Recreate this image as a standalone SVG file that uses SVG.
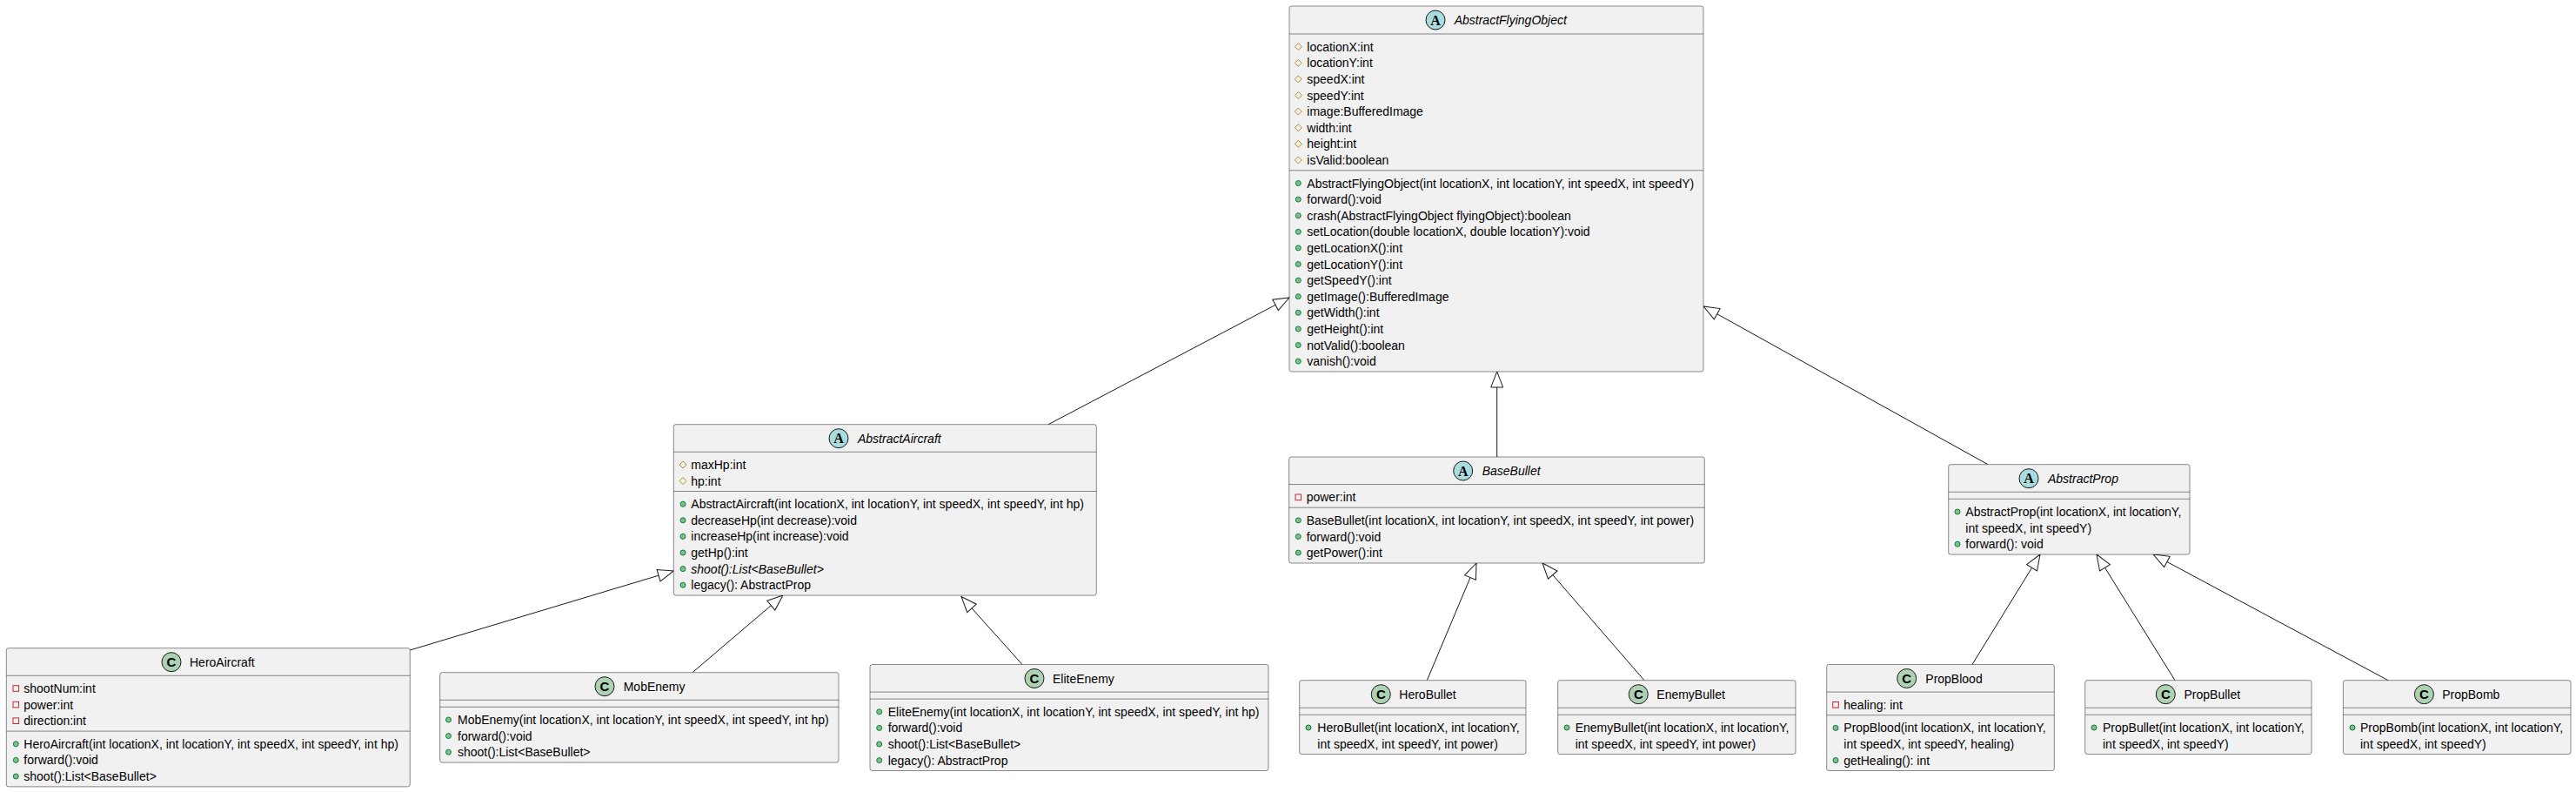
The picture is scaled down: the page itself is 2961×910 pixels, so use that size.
<svg xmlns="http://www.w3.org/2000/svg" width="2961" height="910" viewBox="0 0 2961 910">
<style>
.box{fill:#F1F1F1;stroke:#181818;stroke-width:0.5}
.sep{stroke:#181818;stroke-width:0.5}
.t{font-family:"Liberation Sans",Arial,sans-serif;font-size:14px;fill:#000000}
.i{font-style:italic}
.ia{fill:#A9DCDF;stroke:#181818;stroke-width:1}
.ic{fill:#ADD1B2;stroke:#181818;stroke-width:1}
.la{font-family:"Liberation Serif",serif;font-weight:bold;font-size:16px;fill:#000000}
.lc{font-family:"Liberation Sans",sans-serif;font-weight:bold;font-size:15px;fill:#000000}
.prot{fill:none;stroke:#B38D22;stroke-width:1}
.priv{fill:none;stroke:#C82930;stroke-width:1}
.pub{fill:#84BE84;stroke:#038048;stroke-width:1}
.edge{stroke:#181818;stroke-width:1;fill:none;marker-end:url(#ext)}
</style>
<defs>
<marker id="ext" markerWidth="20" markerHeight="20" viewBox="-19 -10 20 20" refX="0" refY="0" orient="auto" markerUnits="userSpaceOnUse"><path d="M0,0 L-18,-7 L-18,7 Z" fill="#FFFFFF" stroke="#181818" stroke-width="1"/></marker>
<path id="dia" d="M0,-4 L4,0 L0,4 L-4,0 Z"/>
</defs>
<rect width="2961" height="910" fill="#FFFFFF"/>

<g id="connectors">
<path class="edge" d="M1205,487.7 L1482,342"/>
<path class="edge" d="M1720.7,525 L1720.7,427"/>
<path class="edge" d="M2285,533.7 L1958,352"/>
<path class="edge" d="M471.3,747 L774.3,656"/>
<path class="edge" d="M796,772.7 L900,684"/>
<path class="edge" d="M1175,763.5 L1105,685.5"/>
<path class="edge" d="M1640.3,781.7 L1697,647"/>
<path class="edge" d="M1890,781.7 L1773,647"/>
<path class="edge" d="M2267,763.5 L2345,637"/>
<path class="edge" d="M2500,781.7 L2410,637"/>
<path class="edge" d="M2745,781.7 L2475,637"/>
</g>

<g id="AbstractFlyingObject">
<rect class="box" x="1482" y="7" width="476" height="420" rx="2.5"/>
<circle class="ia" cx="1650" cy="23" r="11"/><text class="la" x="1650" y="28.5" text-anchor="middle">A</text>
<text class="t i" x="1671.7" y="28.2">AbstractFlyingObject</text>
<line class="sep" x1="1482" y1="39" x2="1958" y2="39"/>
<use href="#dia" class="prot" x="1492.3" y="53.7"/><text class="t" x="1502.3" y="58.7">locationX:int</text>
<use href="#dia" class="prot" x="1492.3" y="72.3"/><text class="t" x="1502.3" y="77.3">locationY:int</text>
<use href="#dia" class="prot" x="1492.3" y="90.9"/><text class="t" x="1502.3" y="95.9">speedX:int</text>
<use href="#dia" class="prot" x="1492.3" y="109.5"/><text class="t" x="1502.3" y="114.5">speedY:int</text>
<use href="#dia" class="prot" x="1492.3" y="128.1"/><text class="t" x="1502.3" y="133.1">image:BufferedImage</text>
<use href="#dia" class="prot" x="1492.3" y="146.7"/><text class="t" x="1502.3" y="151.7">width:int</text>
<use href="#dia" class="prot" x="1492.3" y="165.3"/><text class="t" x="1502.3" y="170.3">height:int</text>
<use href="#dia" class="prot" x="1492.3" y="183.9"/><text class="t" x="1502.3" y="188.9">isValid:boolean</text>
<line class="sep" x1="1482" y1="195.8" x2="1958" y2="195.8"/>
<circle class="pub" cx="1492.3" cy="210.5" r="3"/><text class="t" x="1502.3" y="215.5">AbstractFlyingObject(int locationX, int locationY, int speedX, int speedY)</text>
<circle class="pub" cx="1492.3" cy="229.1" r="3"/><text class="t" x="1502.3" y="234.1">forward():void</text>
<circle class="pub" cx="1492.3" cy="247.7" r="3"/><text class="t" x="1502.3" y="252.7">crash(AbstractFlyingObject flyingObject):boolean</text>
<circle class="pub" cx="1492.3" cy="266.3" r="3"/><text class="t" x="1502.3" y="271.3">setLocation(double locationX, double locationY):void</text>
<circle class="pub" cx="1492.3" cy="284.9" r="3"/><text class="t" x="1502.3" y="289.9">getLocationX():int</text>
<circle class="pub" cx="1492.3" cy="303.5" r="3"/><text class="t" x="1502.3" y="308.5">getLocationY():int</text>
<circle class="pub" cx="1492.3" cy="322.1" r="3"/><text class="t" x="1502.3" y="327.1">getSpeedY():int</text>
<circle class="pub" cx="1492.3" cy="340.7" r="3"/><text class="t" x="1502.3" y="345.7">getImage():BufferedImage</text>
<circle class="pub" cx="1492.3" cy="359.3" r="3"/><text class="t" x="1502.3" y="364.3">getWidth():int</text>
<circle class="pub" cx="1492.3" cy="377.9" r="3"/><text class="t" x="1502.3" y="382.9">getHeight():int</text>
<circle class="pub" cx="1492.3" cy="396.5" r="3"/><text class="t" x="1502.3" y="401.5">notValid():boolean</text>
<circle class="pub" cx="1492.3" cy="415.1" r="3"/><text class="t" x="1502.3" y="420.1">vanish():void</text>
</g>

<g id="AbstractAircraft">
<rect class="box" x="774.3" y="487.7" width="486" height="196.4" rx="2.5"/>
<circle class="ia" cx="964" cy="503.7" r="11"/><text class="la" x="964" y="509.2" text-anchor="middle">A</text>
<text class="t i" x="986" y="508.9">AbstractAircraft</text>
<line class="sep" x1="774.3" y1="519.3" x2="1260.3" y2="519.3"/>
<use href="#dia" class="prot" x="785" y="534"/><text class="t" x="794.3" y="539">maxHp:int</text>
<use href="#dia" class="prot" x="785" y="552.6"/><text class="t" x="794.3" y="557.6">hp:int</text>
<line class="sep" x1="774.3" y1="564.5" x2="1260.3" y2="564.5"/>
<circle class="pub" cx="785" cy="579.2" r="3"/><text class="t" x="794.3" y="584.2">AbstractAircraft(int locationX, int locationY, int speedX, int speedY, int hp)</text>
<circle class="pub" cx="785" cy="597.8" r="3"/><text class="t" x="794.3" y="602.8">decreaseHp(int decrease):void</text>
<circle class="pub" cx="785" cy="616.4" r="3"/><text class="t" x="794.3" y="621.4">increaseHp(int increase):void</text>
<circle class="pub" cx="785" cy="635" r="3"/><text class="t" x="794.3" y="640">getHp():int</text>
<circle class="pub" cx="785" cy="653.6" r="3"/><text class="t i" x="794.3" y="658.6">shoot():List&lt;BaseBullet&gt;</text>
<circle class="pub" cx="785" cy="672.2" r="3"/><text class="t" x="794.3" y="677.2">legacy(): AbstractProp</text>
</g>

<g id="HeroAircraft">
<rect class="box" x="7.3" y="744.7" width="464" height="159.2" rx="2.5"/>
<circle class="ic" cx="197" cy="760.7" r="11"/><text class="lc" x="197" y="766" text-anchor="middle">C</text>
<text class="t" x="218" y="765.9">HeroAircraft</text>
<line class="sep" x1="7.3" y1="776.3" x2="471.3" y2="776.3"/>
<rect class="priv" x="15" y="787.7" width="6.6" height="6.6"/><text class="t" x="27.3" y="796">shootNum:int</text>
<rect class="priv" x="15" y="806.3" width="6.6" height="6.6"/><text class="t" x="27.3" y="814.6">power:int</text>
<rect class="priv" x="15" y="824.9" width="6.6" height="6.6"/><text class="t" x="27.3" y="833.2">direction:int</text>
<line class="sep" x1="7.3" y1="840.1" x2="471.3" y2="840.1"/>
<circle class="pub" cx="18.3" cy="854.8" r="3"/><text class="t" x="27.3" y="859.8">HeroAircraft(int locationX, int locationY, int speedX, int speedY, int hp)</text>
<circle class="pub" cx="18.3" cy="873.4" r="3"/><text class="t" x="27.3" y="878.4">forward():void</text>
<circle class="pub" cx="18.3" cy="892" r="3"/><text class="t" x="27.3" y="897">shoot():List&lt;BaseBullet&gt;</text>
</g>

<g id="MobEnemy">
<rect class="box" x="505.7" y="772.7" width="458.3" height="103.4" rx="2.5"/>
<circle class="ic" cx="695" cy="788.7" r="11"/><text class="lc" x="695" y="794" text-anchor="middle">C</text>
<text class="t" x="716.7" y="793.9">MobEnemy</text>
<line class="sep" x1="505.7" y1="804.3" x2="964" y2="804.3"/>
<line class="sep" x1="505.7" y1="812.3" x2="964" y2="812.3"/>
<circle class="pub" cx="515.5" cy="827" r="3"/><text class="t" x="526" y="832">MobEnemy(int locationX, int locationY, int speedX, int speedY, int hp)</text>
<circle class="pub" cx="515.5" cy="845.6" r="3"/><text class="t" x="526" y="850.6">forward():void</text>
<circle class="pub" cx="515.5" cy="864.2" r="3"/><text class="t" x="526" y="869.2">shoot():List&lt;BaseBullet&gt;</text>
</g>

<g id="EliteEnemy">
<rect class="box" x="1000" y="763.5" width="458" height="122" rx="2.5"/>
<circle class="ic" cx="1189" cy="779.5" r="11"/><text class="lc" x="1189" y="784.8" text-anchor="middle">C</text>
<text class="t" x="1210" y="784.7">EliteEnemy</text>
<line class="sep" x1="1000" y1="795.1" x2="1458" y2="795.1"/>
<line class="sep" x1="1000" y1="803.1" x2="1458" y2="803.1"/>
<circle class="pub" cx="1010.7" cy="817.8" r="3"/><text class="t" x="1020.7" y="822.8">EliteEnemy(int locationX, int locationY, int speedX, int speedY, int hp)</text>
<circle class="pub" cx="1010.7" cy="836.4" r="3"/><text class="t" x="1020.7" y="841.4">forward():void</text>
<circle class="pub" cx="1010.7" cy="855" r="3"/><text class="t" x="1020.7" y="860">shoot():List&lt;BaseBullet&gt;</text>
<circle class="pub" cx="1010.7" cy="873.6" r="3"/><text class="t" x="1020.7" y="878.6">legacy(): AbstractProp</text>
</g>

<g id="BaseBullet">
<rect class="box" x="1481.7" y="525" width="477.6" height="122" rx="2.5"/>
<circle class="ia" cx="1681.7" cy="541" r="11"/><text class="la" x="1681.7" y="546.5" text-anchor="middle">A</text>
<text class="t i" x="1703.7" y="546.2">BaseBullet</text>
<line class="sep" x1="1481.7" y1="556.6" x2="1959.3" y2="556.6"/>
<rect class="priv" x="1489" y="568" width="6.6" height="6.6"/><text class="t" x="1501.7" y="576.3">power:int</text>
<line class="sep" x1="1481.7" y1="583.2" x2="1959.3" y2="583.2"/>
<circle class="pub" cx="1492.3" cy="597.9" r="3"/><text class="t" x="1501.7" y="602.9">BaseBullet(int locationX, int locationY, int speedX, int speedY, int power)</text>
<circle class="pub" cx="1492.3" cy="616.5" r="3"/><text class="t" x="1501.7" y="621.5">forward():void</text>
<circle class="pub" cx="1492.3" cy="635.1" r="3"/><text class="t" x="1501.7" y="640.1">getPower():int</text>
</g>

<g id="AbstractProp">
<rect class="box" x="2239.7" y="533.7" width="277.3" height="103.4" rx="2.5"/>
<circle class="ia" cx="2332" cy="549.7" r="11"/><text class="la" x="2332" y="555.2" text-anchor="middle">A</text>
<text class="t i" x="2354" y="554.9">AbstractProp</text>
<line class="sep" x1="2239.7" y1="565.3" x2="2517" y2="565.3"/>
<line class="sep" x1="2239.7" y1="573.3" x2="2517" y2="573.3"/>
<circle class="pub" cx="2250" cy="588" r="3"/><text class="t" x="2259.3" y="593">AbstractProp(int locationX, int locationY,</text>
<text class="t" x="2259.3" y="611.6">int speedX, int speedY)</text>
<circle class="pub" cx="2250" cy="625.2" r="3"/><text class="t" x="2259.3" y="630.2">forward(): void</text>
</g>

<g id="HeroBullet">
<rect class="box" x="1493.7" y="781.7" width="260.3" height="84.8" rx="2.5"/>
<circle class="ic" cx="1587.3" cy="797.7" r="11"/><text class="lc" x="1587.3" y="803" text-anchor="middle">C</text>
<text class="t" x="1608.3" y="802.9">HeroBullet</text>
<line class="sep" x1="1493.7" y1="813.3" x2="1754" y2="813.3"/>
<line class="sep" x1="1493.7" y1="821.3" x2="1754" y2="821.3"/>
<circle class="pub" cx="1504" cy="836" r="3"/><text class="t" x="1514.3" y="841">HeroBullet(int locationX, int locationY,</text>
<text class="t" x="1514.3" y="859.6">int speedX, int speedY, int power)</text>
</g>

<g id="EnemyBullet">
<rect class="box" x="1790.7" y="781.7" width="273.3" height="84.8" rx="2.5"/>
<circle class="ic" cx="1883.3" cy="797.7" r="11"/><text class="lc" x="1883.3" y="803" text-anchor="middle">C</text>
<text class="t" x="1904.3" y="802.9">EnemyBullet</text>
<line class="sep" x1="1790.7" y1="813.3" x2="2064" y2="813.3"/>
<line class="sep" x1="1790.7" y1="821.3" x2="2064" y2="821.3"/>
<circle class="pub" cx="1801" cy="836" r="3"/><text class="t" x="1810.7" y="841">EnemyBullet(int locationX, int locationY,</text>
<text class="t" x="1810.7" y="859.6">int speedX, int speedY, int power)</text>
</g>

<g id="PropBlood">
<rect class="box" x="2099.7" y="763.5" width="261.6" height="122" rx="2.5"/>
<circle class="ic" cx="2191.7" cy="779.5" r="11"/><text class="lc" x="2191.7" y="784.8" text-anchor="middle">C</text>
<text class="t" x="2213.3" y="784.7">PropBlood</text>
<line class="sep" x1="2099.7" y1="795.1" x2="2361.3" y2="795.1"/>
<rect class="priv" x="2106.7" y="806.5" width="6.6" height="6.6"/><text class="t" x="2119.3" y="814.8">healing: int</text>
<line class="sep" x1="2099.7" y1="821.7" x2="2361.3" y2="821.7"/>
<circle class="pub" cx="2110" cy="836.4" r="3"/><text class="t" x="2119.3" y="841.4">PropBlood(int locationX, int locationY,</text>
<text class="t" x="2119.3" y="860">int speedX, int speedY, healing)</text>
<circle class="pub" cx="2110" cy="873.6" r="3"/><text class="t" x="2119.3" y="878.6">getHealing(): int</text>
</g>

<g id="PropBullet">
<rect class="box" x="2396.7" y="781.7" width="260.3" height="84.8" rx="2.5"/>
<circle class="ic" cx="2489.3" cy="797.7" r="11"/><text class="lc" x="2489.3" y="803" text-anchor="middle">C</text>
<text class="t" x="2510.5" y="802.9">PropBullet</text>
<line class="sep" x1="2396.7" y1="813.3" x2="2657" y2="813.3"/>
<line class="sep" x1="2396.7" y1="821.3" x2="2657" y2="821.3"/>
<circle class="pub" cx="2407" cy="836" r="3"/><text class="t" x="2417" y="841">PropBullet(int locationX, int locationY,</text>
<text class="t" x="2417" y="859.6">int speedX, int speedY)</text>
</g>

<g id="PropBomb">
<rect class="box" x="2693.4" y="781.7" width="261.6" height="84.8" rx="2.5"/>
<circle class="ic" cx="2786.4" cy="797.7" r="11"/><text class="lc" x="2786.4" y="803" text-anchor="middle">C</text>
<text class="t" x="2807.2" y="802.9">PropBomb</text>
<line class="sep" x1="2693.4" y1="813.3" x2="2955" y2="813.3"/>
<line class="sep" x1="2693.4" y1="821.3" x2="2955" y2="821.3"/>
<circle class="pub" cx="2704" cy="836" r="3"/><text class="t" x="2713" y="841">PropBomb(int locationX, int locationY,</text>
<text class="t" x="2713" y="859.6">int speedX, int speedY)</text>
</g>
</svg>
